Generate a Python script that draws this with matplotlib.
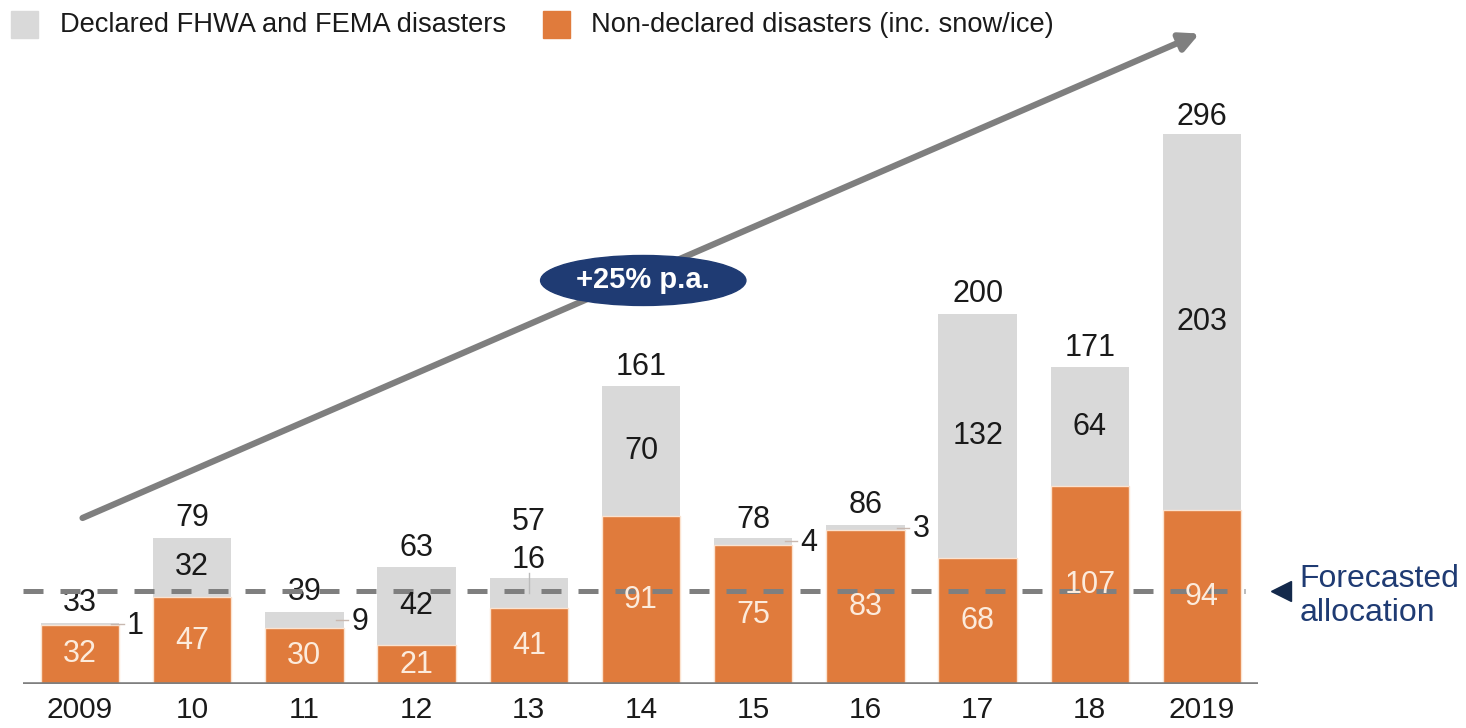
import matplotlib.pyplot as plt
from matplotlib.patches import Rectangle, Ellipse

plt.rcParams['font.family'] = ['Liberation Sans', 'DejaVu Sans']

years = ["2009", "10", "11", "12", "13", "14", "15", "16", "17", "18", "2019"]
non_declared = [32, 47, 30, 21, 41, 91, 75, 83, 68, 107, 94]
declared = [1, 32, 9, 42, 16, 70, 4, 3, 132, 64, 203]
totals = [33, 79, 39, 63, 57, 161, 78, 86, 200, 171, 296]
forecast = 50

ORANGE = "#E07B3C"
GREY = "#D9D9D9"
NAVY = "#1F3B73"
LINE = "#7F7F7F"
TXT = "#1A1A1A"
FS = 22

fig = plt.figure(figsize=(14.66, 7.28), dpi=100)
ax = fig.add_axes([0, 44 / 728, 1, 684 / 728])
ax.set_xlim(-80 / 112.2, (1466 - 80) / 112.2)
ax.set_ylim(0, 684 / 1.851)
for s in ax.spines.values():
    s.set_visible(False)
ax.set_yticks([])

x = list(range(len(years)))
w = 0.7
ax.bar(x, non_declared, width=w, color=ORANGE, edgecolor="#FBE3D0", linewidth=1, zorder=2)
ax.bar(x, declared, width=w, bottom=non_declared, color=GREY, zorder=1)

ax.set_xticks(x)
ax.set_xticklabels(years, fontsize=21.5, color=TXT)
ax.tick_params(axis="x", length=0, pad=9)

# baseline
ax.hlines(0, -0.51, 10.5, color=LINE, lw=2.6, zorder=3)

# forecast line
ax.hlines(forecast, -0.51, 10.38, color=LINE, lw=3.6, linestyles=(0, (4, 3.4)), zorder=4)
ax.plot([10.7], [forecast], marker="<", markersize=15, color="#13294B", clip_on=False)
ax.text(10.87, forecast - 2.5, "Forecasted\nallocation", ha="left", va="center",
        fontsize=23, color=NAVY, linespacing=1.15)

# labels inside orange
for i, v in enumerate(non_declared):
    ax.text(i, v / 2, str(v), ha="center", va="center", fontsize=FS,
            color="#FCEBDC", zorder=5)

# labels for grey segments
small = [0, 2, 6, 7]
for i, v in enumerate(declared):
    mid = non_declared[i] + v / 2
    if i in small:
        ax.plot([i + 0.28, i + 0.39], [mid, mid], color="#C8B8B0", lw=1, zorder=5)
        ax.text(i + 0.42, mid - 1, str(v), ha="left", va="center", fontsize=FS, color=TXT)
    elif i == 4:
        ax.plot([i, i], [mid, totals[i] + 3], color="#BBBBBB", lw=1, zorder=5)
        ax.text(i, 67, str(v), ha="center", va="center", fontsize=FS, color=TXT)
    else:
        ax.text(i, mid, str(v), ha="center", va="center", fontsize=FS, color=TXT, zorder=5)

# totals
for i, t in enumerate(totals):
    y = 87.5 if i == 4 else t + 10.5
    ax.text(i, y, str(t), ha="center", va="center", fontsize=FS, color=TXT)

# growth arrow
ax.annotate("", xy=(10.0, 352), xytext=(0, 89.1),
            arrowprops=dict(arrowstyle="-|>", color=LINE, lw=4.5, mutation_scale=28),
            zorder=6)
ax.add_patch(Ellipse((5.02, 218), 1.83, 27, color=NAVY, zorder=7))
ax.text(5.02, 218, "+25% p.a.", ha="center", va="center", fontsize=21,
        fontweight="bold", color="white", zorder=8)

# legend
fig.add_artist(Rectangle((11 / 1466, 1 - 38 / 728), 27 / 1466, 27 / 728,
                         transform=fig.transFigure, color=GREY))
fig.text(60 / 1466, 1 - 25 / 728, "Declared FHWA and FEMA disasters",
         ha="left", va="center", fontsize=19.6, color=TXT)
fig.add_artist(Rectangle((543 / 1466, 1 - 38 / 728), 27 / 1466, 27 / 728,
                         transform=fig.transFigure, color=ORANGE))
fig.text(591 / 1466, 1 - 25 / 728, "Non-declared disasters (inc. snow/ice)",
         ha="left", va="center", fontsize=19.6, color=TXT)

fig.savefig("out.png", dpi=100)
